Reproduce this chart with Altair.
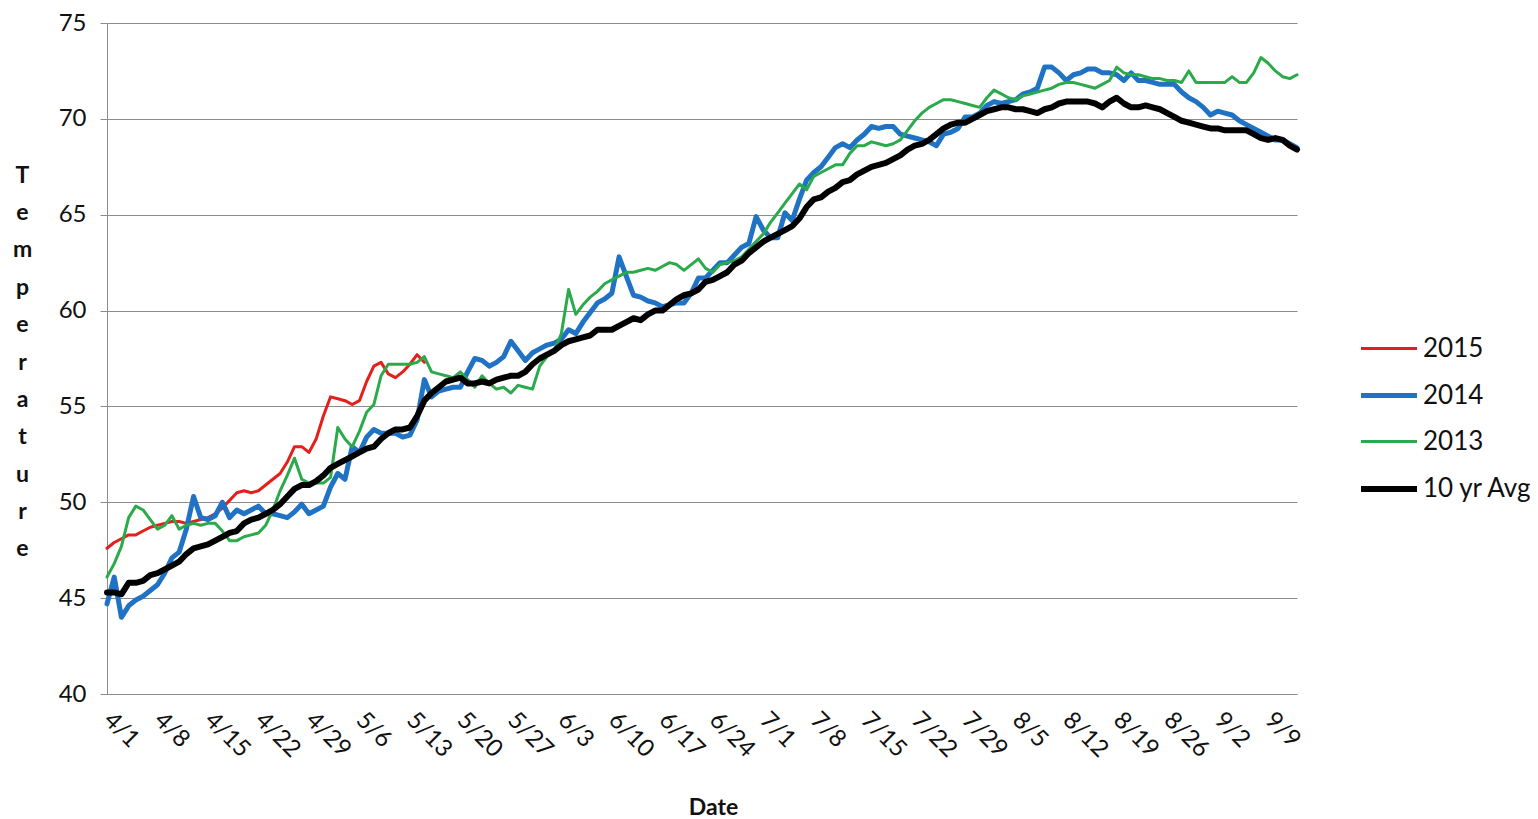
import altair as alt
import pandas as pd

series_names = ["2015", "2014", "2013", "10 yr Avg"]
series_colors = ["#E3201B", "#1F72C4", "#2AAA4A", "#000000"]
series_widths = [3, 5, 3, 6]

tick_labels = ["4/1", "4/8", "4/15", "4/22", "4/29", "5/6", "5/13", "5/20", "5/27",
               "6/3", "6/10", "6/17", "6/24", "7/1", "7/8", "7/15", "7/22", "7/29",
               "8/5", "8/12", "8/19", "8/26", "9/2", "9/9"]
y_ticks = [40, 45, 50, 55, 60, 65, 70, 75]

start_date = "2015-04-01"
end_date = "2015-09-13"

avg10 = [
    45.3, 45.3, 45.2, 45.8, 45.8, 45.9, 46.2, 46.3, 46.5, 46.7,
    46.9, 47.3, 47.6, 47.7, 47.8, 48.0, 48.2, 48.4, 48.5, 48.9,
    49.1, 49.2, 49.4, 49.6, 49.9, 50.3, 50.7, 50.9, 50.9, 51.1,
    51.4, 51.8, 52.0, 52.2, 52.4, 52.6, 52.8, 52.9, 53.3, 53.6,
    53.8, 53.8, 53.9, 54.5, 55.3, 55.7, 56.0, 56.3, 56.4, 56.5,
    56.2, 56.2, 56.3, 56.2, 56.4, 56.5, 56.6, 56.6, 56.8, 57.2,
    57.5, 57.7, 57.9, 58.2, 58.4, 58.5, 58.6, 58.7, 59.0, 59.0,
    59.0, 59.2, 59.4, 59.6, 59.5, 59.8, 60.0, 60.0, 60.3, 60.6,
    60.8, 60.9, 61.1, 61.5, 61.6, 61.8, 62.0, 62.4, 62.6, 63.0,
    63.3, 63.6, 63.8, 64.0, 64.2, 64.4, 64.8, 65.4, 65.8, 65.9,
    66.2, 66.4, 66.7, 66.8, 67.1, 67.3, 67.5, 67.6, 67.7, 67.9,
    68.1, 68.4, 68.6, 68.7, 68.9, 69.2, 69.5, 69.7, 69.8, 69.8,
    70.0, 70.2, 70.4, 70.5, 70.6, 70.6, 70.5, 70.5, 70.4, 70.3,
    70.5, 70.6, 70.8, 70.9, 70.9, 70.9, 70.9, 70.8, 70.6, 70.9,
    71.1, 70.8, 70.6, 70.6, 70.7, 70.6, 70.5, 70.3, 70.1, 69.9,
    69.8, 69.7, 69.6, 69.5, 69.5, 69.4, 69.4, 69.4, 69.4, 69.2,
    69.0, 68.9, 69.0, 68.9, 68.6, 68.4,
]

y2014 = [
    44.7, 46.1, 44.0, 44.6, 44.9, 45.1, 45.4, 45.7, 46.3, 47.1,
    47.4, 48.6, 50.3, 49.2, 49.1, 49.3, 50.0, 49.2, 49.6, 49.4,
    49.6, 49.8, 49.4, 49.4, 49.3, 49.2, 49.5, 49.9, 49.4, 49.6,
    49.8, 50.8, 51.5, 51.2, 52.9, 52.6, 53.4, 53.8, 53.6, 53.6,
    53.6, 53.4, 53.5, 54.3, 56.4, 55.5, 55.8, 55.9, 56.0, 56.0,
    56.8, 57.5, 57.4, 57.1, 57.3, 57.6, 58.4, 57.9, 57.4, 57.8,
    58.0, 58.2, 58.3, 58.5, 59.0, 58.8, 59.4, 59.9, 60.4, 60.6,
    60.9, 62.8, 61.8, 60.8, 60.7, 60.5, 60.4, 60.2, 60.3, 60.4,
    60.4, 60.9, 61.7, 61.7, 62.1, 62.5, 62.5, 62.9, 63.3, 63.5,
    64.9, 64.2, 63.8, 63.8, 65.1, 64.7, 65.8, 66.8, 67.2, 67.5,
    68.0, 68.5, 68.7, 68.5, 68.9, 69.2, 69.6, 69.5, 69.6, 69.6,
    69.2, 69.1, 69.0, 68.9, 68.8, 68.6, 69.2, 69.3, 69.5, 70.1,
    70.1, 70.3, 70.7, 70.9, 70.8, 70.9, 71.0, 71.3, 71.4, 71.6,
    72.7, 72.7, 72.4, 72.0, 72.3, 72.4, 72.6, 72.6, 72.4, 72.4,
    72.3, 72.0, 72.4, 72.0, 72.0, 71.9, 71.8, 71.8, 71.8, 71.4,
    71.1, 70.9, 70.6, 70.2, 70.4, 70.3, 70.2, 69.9, 69.7, 69.5,
    69.3, 69.1, 68.9, 68.9, 68.7, 68.5,
]

y2013 = [
    46.1, 46.8, 47.7, 49.2, 49.8, 49.6, 49.1, 48.6, 48.8, 49.3,
    48.6, 48.8, 48.9, 48.8, 48.9, 48.9, 48.5, 48.0, 48.0, 48.2,
    48.3, 48.4, 48.8, 49.6, 50.6, 51.4, 52.3, 51.2, 51.0, 51.0,
    51.0, 51.3, 53.9, 53.3, 52.9, 53.7, 54.7, 55.1, 56.6, 57.2,
    57.2, 57.2, 57.2, 57.3, 57.6, 56.8, 56.7, 56.6, 56.5, 56.8,
    56.4, 56.0, 56.6, 56.2, 55.9, 56.0, 55.7, 56.1, 56.0, 55.9,
    57.1, 57.6, 57.9, 58.8, 61.1, 59.8, 60.3, 60.7, 61.0, 61.4,
    61.6, 61.8, 62.0, 62.0, 62.1, 62.2, 62.1, 62.3, 62.5, 62.4,
    62.1, 62.4, 62.7, 62.2, 62.0, 62.4, 62.5, 62.6, 62.8, 63.2,
    63.6, 64.0, 64.6, 65.1, 65.6, 66.1, 66.6, 66.3, 67.0, 67.2,
    67.4, 67.6, 67.6, 68.2, 68.6, 68.6, 68.8, 68.7, 68.6, 68.7,
    68.9, 69.4, 69.9, 70.3, 70.6, 70.8, 71.0, 71.0, 70.9, 70.8,
    70.7, 70.6, 71.1, 71.5, 71.3, 71.1, 71.0, 71.2, 71.3, 71.4,
    71.5, 71.6, 71.8, 71.9, 71.9, 71.8, 71.7, 71.6, 71.8, 72.0,
    72.7, 72.4, 72.3, 72.3, 72.2, 72.1, 72.1, 72.0, 72.0, 71.9,
    72.5, 71.9, 71.9, 71.9, 71.9, 71.9, 72.2, 71.9, 71.9, 72.4,
    73.2, 72.9, 72.5, 72.2, 72.1, 72.3,
]

y2015 = [
    47.6, 47.9, 48.1, 48.3, 48.3, 48.5, 48.7, 48.8, 48.9, 49.0,
    49.0, 48.9, 49.0, 49.1, 49.2, 49.4, 49.7, 50.1, 50.5, 50.6,
    50.5, 50.6, 50.9, 51.2, 51.5, 52.1, 52.9, 52.9, 52.6, 53.3,
    54.5, 55.5, 55.4, 55.3, 55.1, 55.3, 56.3, 57.1, 57.3, 56.7,
    56.5, 56.8, 57.2, 57.7, 57.3,
]

dates = pd.date_range(start_date, end_date, freq="D")
frames = []
for name, vals in zip(series_names, [y2015, y2014, y2013, avg10]):
    frames.append(pd.DataFrame({"date": dates[:len(vals)], "temp": vals, "series": name}))
df = pd.concat(frames, ignore_index=True)

tick_dates = [alt.DateTime(year=2015, month=int(t.split("/")[0]), date=int(t.split("/")[1]))
              for t in tick_labels]

FONT = "Lato"
GRID = "#8c8c8c"
TXT = "#111111"

legend_cfg = alt.Legend(
    title=None, orient="none", legendX=1251, legendY=296,
    symbolType="stroke", symbolSize=3136, labelFontSize=26, labelFont=FONT,
    labelColor=TXT, labelOffset=3, rowPadding=3, padding=0,
)

x_enc = alt.X(
    "date:T",
    scale=alt.Scale(domain=[alt.DateTime(year=2015, month=4, date=1),
                            alt.DateTime(year=2015, month=9, date=13)], nice=False),
    axis=alt.Axis(
        values=tick_dates, format="%-m/%-d", labelAngle=45, labelAlign="left",
        labelBaseline="middle", labelPadding=22, labelFontSize=24, labelFont=FONT,
        labelColor=TXT, labelOverlap=False, labelFlush=False, ticks=False,
        grid=False, domainColor=GRID, domainWidth=1,
        title="Date", titleFont=FONT, titleFontSize=23, titleFontWeight="bold",
        titleX=606, titleY=113, titleBaseline="middle", titleColor=TXT,
    ),
)

y_enc = alt.Y(
    "temp:Q",
    scale=alt.Scale(domain=[40, 75], nice=False, zero=False),
    axis=alt.Axis(
        values=y_ticks, grid=True, gridColor=GRID, gridWidth=1, domainColor=GRID,
        tickColor=GRID, tickSize=7, labelPadding=14, labelFontSize=24, labelFont=FONT,
        labelColor=TXT,
        title=list("Temperature"), titleAngle=0, titleX=-85, titleY=152,
        titleAlign="center", titleBaseline="middle", titleLineHeight=37.4,
        titleFont=FONT, titleFontSize=23, titleFontWeight="bold", titleColor=TXT,
    ),
)

color_enc = alt.Color("series:N", scale=alt.Scale(domain=series_names, range=series_colors),
                      legend=legend_cfg)
width_enc = alt.StrokeWidth("series:N",
                            scale=alt.Scale(type="ordinal", domain=series_names, range=series_widths),
                            legend=legend_cfg)

layers = []
for name in series_names:
    layers.append(
        alt.Chart(df)
        .transform_filter(alt.datum.series == name)
        .mark_line(strokeCap="round", strokeJoin="round")
        .encode(x=x_enc, y=y_enc, color=color_enc, strokeWidth=width_enc)
    )

chart = (
    alt.layer(*layers)
    .properties(
        width=1190, height=671,
        autosize=alt.AutoSizeParams(type="none"),
        padding={"left": 99, "top": 15, "right": 233, "bottom": 124},
        background="white",
    )
    .configure_view(stroke=None)
)

chart.save("out.html", embed_options={"renderer": "svg", "actions": False})
